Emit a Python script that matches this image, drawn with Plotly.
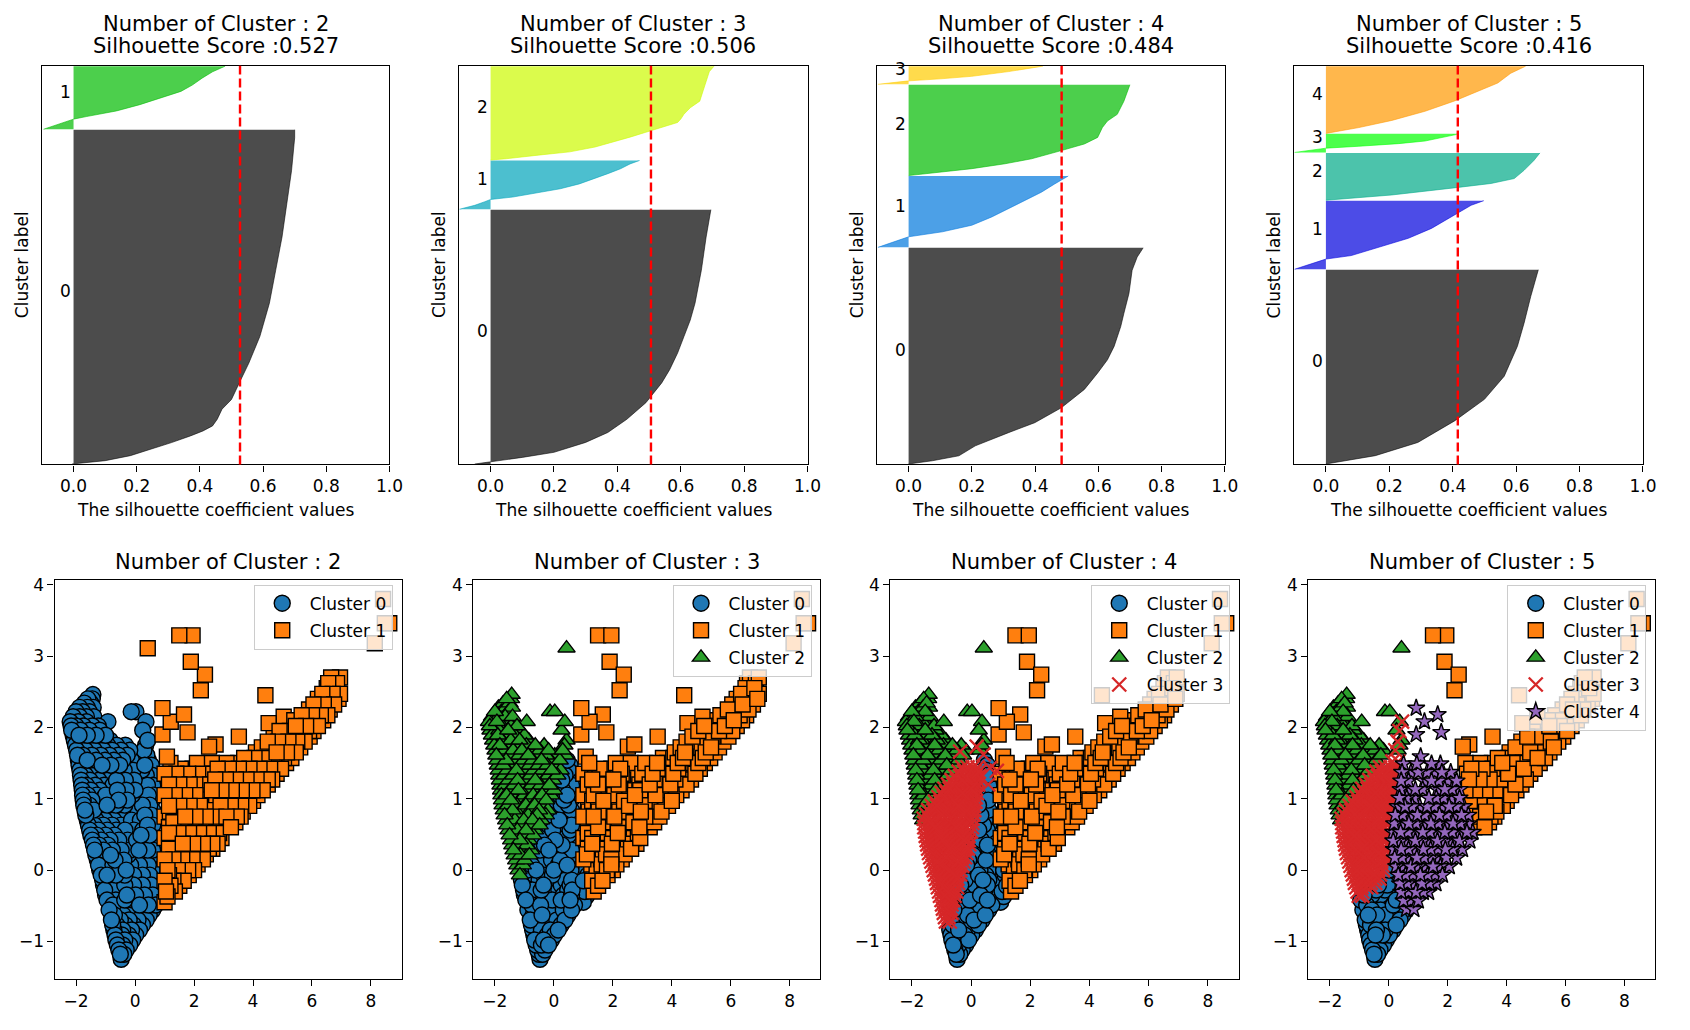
import math
import plotly.graph_objects as go

W, H = 1690, 1030

# ---------------- data: silhouette analysis ----------------
K_VALUES = [2, 3, 4, 5]
SCORES = [0.527, 0.506, 0.484, 0.416]

SIZES_K2 = [7529, 1421]
SIZES_K3 = [5734, 1099, 2117]
SIZES_K4 = [4880, 1610, 2050, 410]
SIZES_K5 = [4390, 1550, 1070, 420, 1520]

# sorted silhouette values sampled along each cluster (fraction of cluster -> value)
K2_C0_FRAC = [0, 0.005, 0.01, 0.025, 0.045, 0.064, 0.084, 0.099, 0.114, 0.134, 0.164, 0.193, 0.243, 0.302, 0.382, 0.481, 0.58, 0.679, 0.778, 0.877, 0.976, 1.0]
K2_C0_SIL = [-0.005, 0.05, 0.10, 0.18, 0.25, 0.31, 0.37, 0.41, 0.44, 0.455, 0.47, 0.50, 0.525, 0.555, 0.59, 0.62, 0.64, 0.66, 0.675, 0.69, 0.70, 0.70]
K2_C1_FRAC = [0, 0.05, 0.1, 0.16, 0.2, 0.29, 0.39, 0.5, 0.6, 0.7, 0.81, 0.91, 1.0]
K2_C1_SIL = [-0.095, -0.065, -0.035, 0.0, 0.04, 0.136, 0.21, 0.28, 0.34, 0.376, 0.407, 0.44, 0.48]

K3_C0_FRAC = [0, 0.0065, 0.013, 0.026, 0.046, 0.085, 0.124, 0.176, 0.241, 0.319, 0.371, 0.436, 0.501, 0.566, 0.632, 0.697, 0.762, 0.892, 1.0]
K3_C0_SIL = [-0.05, -0.01, 0.02, 0.10, 0.20, 0.30, 0.37, 0.43, 0.49, 0.54, 0.565, 0.59, 0.61, 0.63, 0.645, 0.655, 0.665, 0.68, 0.695]
K3_C1_FRAC = [0, 0.08, 0.15, 0.20, 0.25, 0.32, 0.42, 0.52, 0.63, 0.73, 0.83, 0.93, 1.0]
K3_C1_SIL = [-0.098, -0.05, -0.02, 0.0, 0.07, 0.13, 0.22, 0.28, 0.33, 0.37, 0.41, 0.44, 0.47]
K3_C2_FRAC = [0, 0.014, 0.052, 0.087, 0.139, 0.192, 0.244, 0.296, 0.348, 0.40, 0.436, 0.488, 0.557, 0.627, 0.732, 0.836, 0.941, 1.0]
K3_C2_SIL = [0.0, 0.05, 0.15, 0.25, 0.33, 0.39, 0.44, 0.49, 0.54, 0.59, 0.60, 0.61, 0.63, 0.66, 0.67, 0.68, 0.69, 0.705]

K4_C0_FRAC = [0, 0.015, 0.038, 0.084, 0.145, 0.191, 0.26, 0.345, 0.421, 0.482, 0.544, 0.636, 0.697, 0.789, 0.896, 0.957, 1.0]
K4_C0_SIL = [0.0, 0.075, 0.159, 0.211, 0.316, 0.399, 0.483, 0.556, 0.598, 0.629, 0.65, 0.671, 0.681, 0.697, 0.707, 0.723, 0.742]
K4_C1_FRAC = [0, 0.06, 0.1, 0.148, 0.218, 0.31, 0.426, 0.54, 0.657, 0.773, 0.889, 1.0]
K4_C1_SIL = [-0.097, -0.06, -0.035, 0.0, 0.107, 0.2, 0.263, 0.316, 0.368, 0.42, 0.462, 0.505]
K4_C2_FRAC = [0, 0.04, 0.076, 0.13, 0.185, 0.275, 0.348, 0.42, 0.529, 0.601, 0.674, 0.819, 0.928, 1.0]
K4_C2_SIL = [0.0, 0.107, 0.2, 0.305, 0.389, 0.483, 0.556, 0.598, 0.613, 0.629, 0.66, 0.681, 0.692, 0.70]
K4_C3_FRAC = [0, 0.07, 0.14, 0.19, 0.3, 0.44, 0.7, 0.96, 1.0]
K4_C3_SIL = [-0.097, -0.06, -0.02, 0.0, 0.1, 0.2, 0.316, 0.42, 0.425]

K5_C0_FRAC = [0, 0.015, 0.043, 0.111, 0.222, 0.333, 0.452, 0.606, 0.725, 0.862, 1.0]
K5_C0_SIL = [0.0, 0.05, 0.156, 0.29, 0.406, 0.5, 0.5625, 0.604, 0.625, 0.646, 0.67]
K5_C1_FRAC = [0, 0.07, 0.115, 0.149, 0.2, 0.308, 0.452, 0.596, 0.764, 0.933, 1.0]
K5_C1_SIL = [-0.099, -0.05, -0.02, 0.0, 0.08, 0.156, 0.26, 0.333, 0.396, 0.458, 0.498]
K5_C2_FRAC = [0, 0.04, 0.111, 0.271, 0.354, 0.458, 0.632, 0.84, 1.0]
K5_C2_SIL = [0.0, 0.08, 0.208, 0.417, 0.521, 0.594, 0.625, 0.656, 0.675]
K5_C3_FRAC = [0, 0.088, 0.175, 0.23, 0.333, 0.474, 0.614, 0.82, 0.96, 1.0]
K5_C3_SIL = [-0.099, -0.06, -0.02, 0.0, 0.104, 0.229, 0.3125, 0.375, 0.41, 0.415]
K5_C4_FRAC = [0, 0.087, 0.193, 0.329, 0.483, 0.628, 0.749, 0.894, 1.0]
K5_C4_SIL = [0.0, 0.104, 0.208, 0.3125, 0.406, 0.479, 0.542, 0.583, 0.63]

# ---------------- data: PCA scatter, point groups as (y, [x, ...]) rows ----------------
APEX = [(-1.25, [-0.47]), (-1.12, [-0.55, -0.3]), (-0.98, [-0.65, -0.35, -0.08]),
        (-0.84, [-0.72, -0.42, -0.12, 0.15]), (-0.70, [-0.5, -0.2, 0.1, 0.38]),
        (-0.56, [-0.58, -0.28, 0.02, 0.32, 0.6])]
APEX_B = [(-1.18, [-0.5, -0.38]), (-1.05, [-0.6, -0.42, -0.18]), (-0.91, [-0.68, -0.45, -0.22, 0.02]),
          (-0.77, [-0.62, -0.33, -0.05, 0.25]), (-0.63, [-0.4, -0.12, 0.18, 0.48]),
          (-0.49, [-0.45, -0.15, 0.15, 0.45, 0.7])]
APEX_L = [(-0.70, [-0.8]), (-0.56, [-0.88])]
APEX_L_B = [(-0.77, [-0.76]), (-0.63, [-0.7]), (-0.49, [-0.75])]
MID_L = [(-0.42, [-0.95, -0.65]), (-0.28, [-1.03, -0.73, -0.43]), (-0.14, [-1.1, -0.8, -0.5]),
         (0.00, [-0.9, -0.6, -0.3]), (0.14, [-0.68, -0.38]), (0.28, [-0.47, -0.17]),
         (0.42, [-0.55, -0.25]), (0.56, [-0.34, -0.04]), (0.70, [-0.12]), (0.84, [0.1]),
         (0.98, [0.04]), (1.12, [0.3]), (1.26, [0.27])]
MID_L_B = [(-0.35, [-1.0, -0.84, -0.57]), (-0.21, [-1.07, -0.65]), (-0.07, [-0.95, -0.65, -0.35]),
           (0.07, [-0.75, -0.45]), (0.21, [-0.53, -0.23]), (0.35, [-0.62, -0.32, -0.02]),
           (0.49, [-0.4, -0.1]), (0.63, [-0.18, 0.12]), (0.77, [0.03]), (0.91, [-0.05]),
           (1.05, [0.2]), (1.19, [0.15]), (1.47, [0.33])]
MID_R = [(-0.42, [-0.35, -0.05, 0.25, 0.55]), (-0.28, [-0.13, 0.17, 0.47, 0.62]),
         (-0.14, [-0.2, 0.1, 0.4, 0.6]), (0.00, [0.0, 0.3, 0.58]), (0.14, [-0.08, 0.22, 0.5]),
         (0.28, [0.13, 0.43, 0.6]), (0.42, [0.05, 0.35, 0.6]), (0.56, [0.26, 0.55]),
         (0.70, [0.18, 0.48]), (0.84, [0.4, 0.6]), (0.98, [0.34, 0.58]), (1.12, [0.55]),
         (1.26, [0.5]), (1.40, [0.5]), (1.54, [0.45])]
MID_R_B = [(-0.35, [-0.28, 0.02, 0.32, 0.6]), (-0.21, [-0.35, -0.05, 0.25, 0.55]),
           (-0.07, [-0.05, 0.25, 0.5]), (0.07, [-0.15, 0.15, 0.45]), (0.21, [0.07, 0.37, 0.6]),
           (0.35, [0.28, 0.55]), (0.49, [0.2, 0.5]), (0.63, [0.42, 0.6]), (0.77, [0.33, 0.55]),
           (0.91, [0.25, 0.5]), (1.05, [0.45, 0.62]), (1.19, [0.42, 0.6]), (1.33, [0.38, 0.58]),
           (1.47, [0.55])]
LEFT_BAND = [(0.00, [-1.2]), (0.14, [-1.28, -0.98]), (0.28, [-1.37, -1.07, -0.77]),
             (0.42, [-1.45, -1.15, -0.85]), (0.56, [-1.54, -1.24, -0.94, -0.64]),
             (0.70, [-1.32, -1.02, -0.72, -0.42]), (0.84, [-1.1, -0.8, -0.5, -0.2]),
             (0.98, [-0.86, -0.56, -0.26]), (1.12, [-0.6, -0.3, 0.0]),
             (1.26, [-0.63, -0.33, -0.03]), (1.40, [-0.37, -0.07, 0.23]), (1.54, [-0.12, 0.2])]
LEFT_BAND_B = [(-0.07, [-1.15]), (0.07, [-1.24, -1.05]), (0.21, [-1.33, -1.13, -0.83]),
               (0.35, [-1.41, -1.22, -0.92]), (0.49, [-1.5, -1.3, -1.0, -0.7]),
               (0.63, [-1.58, -1.38, -1.08, -0.78, -0.48]),
               (0.77, [-1.47, -1.17, -0.87, -0.57, -0.27]),
               (0.91, [-1.25, -0.95, -0.65, -0.35]), (1.05, [-1.0, -0.7, -0.4, -0.1]),
               (1.19, [-0.75, -0.45, -0.15]), (1.33, [-0.48, -0.18, 0.12]),
               (1.47, [-0.22, 0.08]), (1.61, [0.03, 0.4])]
TOP_LEFT = [(0.70, [-1.62]), (0.84, [-1.7, -1.4]), (0.98, [-1.76, -1.46, -1.16]),
            (1.12, [-1.79, -1.5, -1.2, -0.9]), (1.26, [-1.83, -1.53, -1.23, -0.93]),
            (1.40, [-1.87, -1.57, -1.27, -0.97, -0.67]),
            (1.54, [-1.92, -1.62, -1.32, -1.02, -0.72, -0.42]),
            (1.68, [-1.98, -1.68, -1.38, -1.08, -0.78, -0.48, -0.18, 0.3]),
            (1.82, [-2.06, -1.76, -1.46, -1.16, -0.85, 0.43]),
            (1.96, [-2.15, -1.85, -1.55, -1.2, 0.26]),
            (2.08, [-2.2, -1.93, -1.65, -0.92, 0.37]),
            (2.22, [-2.0, -1.78, -1.55, -0.13, 0.03]),
            (2.34, [-1.72, -1.5]), (2.46, [-1.43])]
TOP_LEFT_B = [(0.77, [-1.67]), (0.91, [-1.74, -1.55]), (1.05, [-1.78, -1.6, -1.3]),
              (1.19, [-1.81, -1.65, -1.35, -1.05]), (1.33, [-1.85, -1.68, -1.38, -1.08, -0.78]),
              (1.47, [-1.9, -1.72, -1.42, -1.12, -0.82, -0.52]),
              (1.61, [-1.95, -1.77, -1.47, -1.17, -0.87, -0.57, -0.27]),
              (1.75, [-2.02, -1.83, -1.53, -1.23, -0.93, -0.63, -0.33, 0.36]),
              (1.89, [-2.1, -1.9, -1.62, -1.32, -1.0]), (2.02, [-2.17, -2.0, -1.75, -1.45, -1.25]),
              (2.15, [-2.1, -1.88, -1.65, -1.4]), (2.28, [-1.88, -1.62, -1.42]),
              (2.40, [-1.6, -1.45])]
TRI_OUTLIER = [(3.11, [0.43])]
BLUE5_EXTRA = [(-0.42, [-0.95, -0.65, -0.35, -0.05, 0.25]), (-0.28, [-0.43, -0.13, 0.17]),
               (-0.14, [-0.2, 0.1]), (0.00, [0.0])]
BLUE5_EXTRA_B = [(-0.35, [-0.84, -0.57, -0.28, 0.02, 0.32]), (-0.21, [-0.35, -0.05, 0.25]),
                 (-0.07, [-0.05, 0.2]), (0.07, [0.05])]

ORANGE_LOWLEFT = [(-0.45, [1.0]), (-0.30, [1.05]), (-0.15, [1.0]), (0.00, [1.1])]
ORANGE_LOWLEFT_B = [(-0.37, [1.1]), (-0.22, [1.2]), (-0.07, [1.15])]
ORANGE_L = [(-0.30, [1.35]), (-0.15, [1.3, 1.65]), (0.00, [1.45, 1.8, 2.0]),
            (0.15, [1.0, 1.3, 1.6, 1.95, 2.3]), (0.30, [1.15, 1.45, 1.8, 2.15, 2.5, 2.62]),
            (0.45, [1.0, 1.3, 1.65, 2.0, 2.35, 2.7, 2.93]), (0.60, [1.15, 1.5, 1.85, 2.2, 2.55]),
            (0.75, [1.0, 1.35, 1.7, 2.05, 2.4, 2.75]), (0.90, [1.15, 1.5, 1.85, 2.2, 2.55]),
            (1.05, [1.0, 1.35, 1.7, 2.05, 2.4]), (1.20, [1.15, 1.5, 1.85, 2.2]),
            (1.35, [1.0, 1.4, 1.8, 2.3]), (1.50, [1.2, 2.1])]
ORANGE_L_B = [(-0.22, [1.5]), (-0.07, [1.47, 1.82]), (0.08, [1.27, 1.62, 1.95, 2.12]),
              (0.22, [1.12, 1.45, 1.77, 2.1, 2.4]), (0.37, [1.3, 1.62, 1.97, 2.3, 2.62, 2.8]),
              (0.52, [1.15, 1.47, 1.83, 2.17, 2.5, 2.85]), (0.67, [1.3, 1.66, 2.02, 2.37, 2.7]),
              (0.82, [1.18, 1.52, 1.88, 2.22, 2.58]), (0.97, [1.3, 1.68, 2.03, 2.38]),
              (1.12, [1.17, 1.52, 1.9, 2.25]), (1.27, [1.3, 1.67, 2.02, 2.35]),
              (1.42, [1.55, 1.95, 2.25])]
ORANGE_R = [(0.60, [2.9, 3.25]), (0.75, [3.1, 3.45, 3.58]), (0.90, [2.9, 3.25, 3.6, 3.87]),
            (1.05, [2.75, 3.1, 3.45, 3.8, 4.15]), (1.20, [2.55, 2.9, 3.25, 3.6, 3.95, 4.3, 4.5]),
            (1.35, [2.65, 3.0, 3.35, 3.7, 4.05, 4.4, 4.8]),
            (1.50, [2.6, 3.1, 3.5, 3.85, 4.2, 4.55, 4.9, 5.12]),
            (1.65, [4.1, 4.45, 4.8, 5.15, 5.45]), (1.80, [4.5, 4.85, 5.2, 5.5, 5.75]),
            (1.95, [4.9, 5.25, 5.6, 5.9, 6.05]), (2.10, [5.4, 5.75, 6.1, 6.38]),
            (2.25, [5.9, 6.25, 6.6]), (2.40, [6.2, 6.55, 6.9]), (2.55, [6.5, 6.8]),
            (2.70, [6.65, 6.95])]
ORANGE_R_B = [(0.67, [3.05, 3.4]), (0.82, [2.95, 3.3, 3.65]), (0.97, [2.75, 3.08, 3.43, 3.78, 4.0]),
              (1.12, [2.6, 2.93, 3.28, 3.62, 3.98, 4.33]),
              (1.27, [2.72, 3.08, 3.42, 3.78, 4.12, 4.5, 4.65]),
              (1.42, [2.8, 3.18, 3.52, 3.88, 4.22, 4.58, 4.95]),
              (1.57, [3.7, 4.05, 4.38, 4.72, 5.05, 5.3]), (1.72, [4.3, 4.65, 5.0, 5.33, 5.6]),
              (1.87, [4.7, 5.05, 5.38, 5.7, 5.92]), (2.02, [5.1, 5.45, 5.8, 6.2]),
              (2.17, [5.65, 6.0, 6.3, 6.52]), (2.32, [6.05, 6.4, 6.75]),
              (2.47, [6.35, 6.7, 6.95]), (2.62, [6.55, 6.85])]
ORANGE_SCATTER = [(2.27, [0.93]), (2.18, [1.66]), (2.08, [1.21]), (1.93, [1.78]),
                  (1.90, [0.93]), (1.59, [1.08])]
ORANGE_OUTLIERS = [(3.29, [1.50, 1.95]), (2.92, [1.89]), (2.74, [2.37]), (2.52, [2.23]),
                   (2.45, [4.42]), (1.73, [2.51]), (1.76, [2.73]), (1.87, [3.52]),
                   (2.06, [4.53]), (2.15, [5.04]), (3.80, [8.41]), (3.46, [8.47, 8.62]),
                   (3.18, [8.13])]

RED_LO_K4 = [(-0.72, [-0.85, -0.72]), (-0.60, [-0.92, -0.78, -0.66]), (-0.48, [-0.98, -0.82, -0.66]),
             (-0.36, [-1.05, -0.88, -0.72, -0.56]), (-0.24, [-1.12, -0.95, -0.78, -0.62, -0.47]),
             (-0.12, [-1.18, -1.0, -0.82, -0.64, -0.46]),
             (0.00, [-1.26, -1.08, -0.9, -0.72, -0.54, -0.36]),
             (0.12, [-1.34, -1.16, -0.98, -0.8, -0.62, -0.44, -0.26])]
RED_LO_K4_B = [(-0.66, [-0.88, -0.76]), (-0.54, [-0.95, -0.8, -0.68]), (-0.42, [-1.0, -0.85, -0.7, -0.6]),
               (-0.30, [-1.08, -0.92, -0.75, -0.58, -0.5]), (-0.18, [-1.15, -0.98, -0.8, -0.62, -0.44]),
               (-0.06, [-1.22, -1.04, -0.86, -0.68, -0.5, -0.37]),
               (0.06, [-1.3, -1.12, -0.94, -0.76, -0.58, -0.4, -0.3]),
               (0.18, [-1.38, -1.2, -1.02, -0.84, -0.66, -0.48, -0.3, -0.2])]
RED_LO_K5 = [(-0.36, [-1.02, -0.9]), (-0.24, [-1.1, -0.93, -0.76, -0.6]),
             (-0.12, [-1.18, -1.0, -0.82, -0.64, -0.46, -0.32]),
             (0.00, [-1.26, -1.08, -0.9, -0.72, -0.54, -0.36, -0.2]),
             (0.12, [-1.34, -1.16, -0.98, -0.8, -0.62, -0.44, -0.26, -0.08])]
RED_LO_K5_B = [(-0.30, [-1.06, -0.9]), (-0.18, [-1.15, -0.98, -0.8, -0.62, -0.46]),
               (-0.06, [-1.22, -1.04, -0.86, -0.68, -0.5, -0.3]),
               (0.06, [-1.3, -1.12, -0.94, -0.76, -0.58, -0.4, -0.2]),
               (0.18, [-1.38, -1.2, -1.02, -0.84, -0.66, -0.48, -0.3, -0.12, -0.02])]
RED_UP = [(0.24, [-1.42, -1.24, -1.06, -0.88, -0.7, -0.52, -0.34, -0.16]),
          (0.36, [-1.48, -1.3, -1.12, -0.94, -0.76, -0.58, -0.4, -0.22, -0.06]),
          (0.48, [-1.53, -1.35, -1.17, -0.99, -0.81, -0.63, -0.45, -0.27, -0.09]),
          (0.60, [-1.58, -1.4, -1.22, -1.04, -0.86, -0.68, -0.5, -0.32, -0.14, 0.03]),
          (0.72, [-1.6, -1.42, -1.24, -1.06, -0.88, -0.7, -0.52, -0.34, -0.16, 0.05]),
          (0.84, [-1.45, -1.27, -1.09, -0.91, -0.73, -0.55, -0.37, -0.19, -0.01, 0.11]),
          (0.96, [-1.22, -1.04, -0.86, -0.68, -0.5, -0.32, -0.14, 0.04, 0.15]),
          (1.08, [-1.0, -0.82, -0.64, -0.46, -0.28, -0.1, 0.08, 0.2]),
          (1.20, [-0.78, -0.6, -0.42, -0.24, -0.06, 0.12, 0.24]),
          (1.32, [-0.55, -0.37, -0.19, -0.01, 0.15, 0.28]),
          (1.44, [-0.3, -0.12, 0.06, 0.22])]
RED_UP_B = [(0.30, [-1.45, -1.27, -1.09, -0.91, -0.73, -0.55, -0.37, -0.19, -0.1]),
            (0.42, [-1.5, -1.32, -1.14, -0.96, -0.78, -0.6, -0.42, -0.24, -0.08]),
            (0.54, [-1.55, -1.37, -1.19, -1.01, -0.83, -0.65, -0.47, -0.29, -0.11, 0.0]),
            (0.66, [-1.58, -1.4, -1.22, -1.04, -0.86, -0.68, -0.5, -0.32, -0.14, 0.04]),
            (0.78, [-1.52, -1.34, -1.16, -0.98, -0.8, -0.62, -0.44, -0.26, -0.08, 0.08]),
            (0.90, [-1.33, -1.15, -0.97, -0.79, -0.61, -0.43, -0.25, -0.07, 0.1]),
            (1.02, [-1.1, -0.92, -0.74, -0.56, -0.38, -0.2, -0.02, 0.16]),
            (1.14, [-0.9, -0.72, -0.54, -0.36, -0.18, 0.0, 0.17]),
            (1.26, [-0.66, -0.48, -0.3, -0.12, 0.06, 0.22]),
            (1.38, [-0.42, -0.24, -0.06, 0.12, 0.26])]
RED_K5_RIGHT = [(0.24, [0.0]), (0.36, [0.08]), (0.48, [0.1]), (0.60, [0.18]), (0.72, [0.22]),
                (0.84, [0.26]), (0.96, [0.3]), (1.08, [0.34])]
RED_SPARSE_K4 = [(1.66, [-0.37]), (1.73, [0.19]), (1.62, [0.42]), (1.43, [0.64]), (1.39, [0.87]),
                 (1.29, [0.3]), (1.20, [0.58])]
RED_SPARSE_K5 = [(2.08, [0.45]), (1.95, [0.36]), (1.80, [0.3]), (1.68, [0.22]), (1.52, [0.12, 0.32]),
                 (1.30, [0.0, 0.42]), (1.18, [0.34]), (1.38, [0.2])]

PURPLE = [(-0.55, [0.6, 0.85]), (-0.43, [0.5, 0.75, 1.0]), (-0.31, [0.42, 0.67, 0.92, 1.17, 1.35]),
          (-0.19, [0.38, 0.63, 0.88, 1.13, 1.38, 1.6]),
          (-0.07, [0.32, 0.57, 0.82, 1.07, 1.32, 1.57, 1.82]),
          (0.05, [0.25, 0.5, 0.75, 1.0, 1.25, 1.5, 1.75, 2.05]),
          (0.17, [0.2, 0.45, 0.7, 0.95, 1.2, 1.45, 1.7, 1.95, 2.3]),
          (0.29, [0.17, 0.42, 0.67, 0.92, 1.17, 1.42, 1.67, 1.92, 2.17, 2.5]),
          (0.41, [0.15, 0.4, 0.65, 0.9, 1.15, 1.4, 1.65, 1.9, 2.15, 2.4, 2.75]),
          (0.53, [0.15, 0.4, 0.65, 0.9, 1.15, 1.4, 1.65, 1.9, 2.15, 2.4, 2.65, 2.85]),
          (0.65, [0.18, 0.43, 0.68, 0.93, 1.18, 1.43, 1.68, 1.93, 2.18, 2.43, 2.7]),
          (0.77, [0.22, 0.47, 0.72, 0.97, 1.22, 1.47, 1.72, 1.97, 2.22, 2.47, 2.7]),
          (0.89, [0.3, 0.55, 0.8, 1.05, 1.3, 1.55, 1.8, 2.05, 2.3, 2.55]),
          (1.01, [0.36, 0.61, 0.86, 1.36, 1.61, 1.86, 2.11, 2.4]),
          (1.13, [0.4, 0.65, 0.9, 1.15, 1.65, 1.9, 2.15, 2.4]),
          (1.25, [0.42, 0.67, 1.2, 1.45, 1.7, 2.0, 2.3]),
          (1.37, [0.45, 0.75, 1.0, 1.3, 1.55, 1.8, 2.1]),
          (1.49, [0.5, 0.95, 1.45, 1.75])]

# cluster composition per k (lists of point groups)
CLUSTERS_K2 = [[APEX, APEX_B, APEX_L, APEX_L_B, MID_L, MID_L_B, MID_R, MID_R_B,
                LEFT_BAND, LEFT_BAND_B, TOP_LEFT, TOP_LEFT_B],
               [ORANGE_LOWLEFT, ORANGE_LOWLEFT_B, ORANGE_L, ORANGE_L_B, ORANGE_R, ORANGE_R_B,
                ORANGE_SCATTER, ORANGE_OUTLIERS, TRI_OUTLIER]]
CLUSTERS_K3 = [[APEX, APEX_B, APEX_L, APEX_L_B, MID_L, MID_L_B, MID_R, MID_R_B,
                ORANGE_LOWLEFT, ORANGE_LOWLEFT_B],
               [ORANGE_L, ORANGE_L_B, ORANGE_R, ORANGE_R_B, ORANGE_SCATTER, ORANGE_OUTLIERS],
               [TOP_LEFT, TOP_LEFT_B, LEFT_BAND, LEFT_BAND_B, TRI_OUTLIER]]
CLUSTERS_K4 = [[APEX, APEX_B, MID_R, MID_R_B, ORANGE_LOWLEFT, ORANGE_LOWLEFT_B],
               [ORANGE_L, ORANGE_L_B, ORANGE_R, ORANGE_R_B, ORANGE_SCATTER, ORANGE_OUTLIERS],
               [TOP_LEFT, TOP_LEFT_B, TRI_OUTLIER],
               [RED_LO_K4, RED_LO_K4_B, RED_UP, RED_UP_B, RED_SPARSE_K4]]
CLUSTERS_K5 = [[APEX, APEX_B, APEX_L, APEX_L_B, BLUE5_EXTRA, BLUE5_EXTRA_B],
               [ORANGE_R, ORANGE_R_B, ORANGE_OUTLIERS],
               [TOP_LEFT, TOP_LEFT_B, TRI_OUTLIER],
               [RED_LO_K5, RED_LO_K5_B, RED_UP, RED_UP_B, RED_K5_RIGHT, RED_SPARSE_K5],
               [PURPLE, ORANGE_SCATTER]]

# ---------------- styles ----------------
FONT = "DejaVu Sans"
SIL_COLORS = {
    2: [(0, 0, 0), (0, 187, 0)],
    3: [(0, 0, 0), (0, 164, 187), (204, 249, 0)],
    4: [(0, 0, 0), (0, 119, 221), (0, 187, 0), (255, 204, 0)],
    5: [(0, 0, 0), (0, 0, 221), (0, 170, 136), (0, 255, 0), (255, 153, 0)],
}
MARKERS = [
    dict(symbol="circle", color="#1f77b4", size=16, line=dict(color="black", width=1.4)),
    dict(symbol="square", color="#ff7f0e", size=15, line=dict(color="black", width=1.4)),
    dict(symbol="triangle-up", color="#2ca02c", size=15, line=dict(color="black", width=1.4)),
    dict(symbol="x-thin", color="#d62728", size=14, line=dict(color="#d62728", width=2.3)),
    dict(symbol="star", color="#9467bd", size=13, line=dict(color="black", width=1.4)),
]
TOP_X = [(42.3, 392.7), (462.7, 814.3), (884.3, 1235.0), (1305.0, 1656.7)]
TOP_Y = (61.0, 461.7)
BOT_X = [(55.0, 405.0), (477.3, 827.3), (897.7, 1249.0), (1319.3, 1669.0)]
BOT_Y = (577.5, 979.0)

SIZES = [SIZES_K2, SIZES_K3, SIZES_K4, SIZES_K5]
PROFILES = [
    [(K2_C0_FRAC, K2_C0_SIL), (K2_C1_FRAC, K2_C1_SIL)],
    [(K3_C0_FRAC, K3_C0_SIL), (K3_C1_FRAC, K3_C1_SIL), (K3_C2_FRAC, K3_C2_SIL)],
    [(K4_C0_FRAC, K4_C0_SIL), (K4_C1_FRAC, K4_C1_SIL), (K4_C2_FRAC, K4_C2_SIL), (K4_C3_FRAC, K4_C3_SIL)],
    [(K5_C0_FRAC, K5_C0_SIL), (K5_C1_FRAC, K5_C1_SIL), (K5_C2_FRAC, K5_C2_SIL),
     (K5_C3_FRAC, K5_C3_SIL), (K5_C4_FRAC, K5_C4_SIL)],
]
CLUSTERS = [CLUSTERS_K2, CLUSTERS_K3, CLUSTERS_K4, CLUSTERS_K5]


def px_x(v):
    return v / W


def px_y(v):
    return 1 - v / H


def expand(groups):
    xs, ys = [], []
    for g in groups:
        for yv, row in g:
            for xv in row:
                xs.append(xv)
                ys.append(yv)
    # interleave the drawing order (deterministic stride) so overlaps look unordered
    n = len(xs)
    stride = next(s for s in (37, 41, 43, 47, 53, 59, 61) if math.gcd(s, n) == 1)
    order = [(j * stride) % n for j in range(n)]
    return [xs[o] for o in order], [ys[o] for o in order]


fig = go.Figure()
layout = dict(
    width=W, height=H, margin=dict(l=0, r=0, t=0, b=0),
    paper_bgcolor="white", plot_bgcolor="white",
    font=dict(family=FONT, size=17, color="black"),
    showlegend=True,
)
annotations = []
shapes = []

axis_common = dict(showline=True, mirror=True, linecolor="black", linewidth=1.3,
                   showgrid=False, zeroline=False, ticks="outside", ticklen=6,
                   tickwidth=1.3, tickcolor="black", tickfont=dict(family=FONT, size=17, color="black"))

for i, k in enumerate(K_VALUES):
    # ---------- top: silhouette plot ----------
    ax = i + 1
    xa = "x" if ax == 1 else f"x{ax}"
    ya = "y" if ax == 1 else f"y{ax}"
    sizes = SIZES[i]
    total = sum(sizes) + (k + 1) * 10
    y_lower = 10
    for c in range(k):
        frac, sil = PROFILES[i][c]
        n = sizes[c]
        ys = [y_lower + f * n for f in frac]
        r, g, b = SIL_COLORS[k][c]
        col = f"rgba({r},{g},{b},0.7)"
        fig.add_trace(go.Scatter(x=sil, y=ys, mode="lines", fill="tozerox", fillcolor=col,
                                 line=dict(color=col, width=0.8), showlegend=False,
                                 xaxis=xa, yaxis=ya, hoverinfo="skip"))
        annotations.append(dict(x=-0.05, y=y_lower + 0.5 * n, xref=xa, yref=ya, text=str(c),
                                showarrow=False, xanchor="left", yanchor="middle", yshift=6,
                                font=dict(family=FONT, size=17, color="black")))
        y_lower += n + 10
    shapes.append(dict(type="line", xref=xa, yref=f"{ya} domain", x0=SCORES[i], x1=SCORES[i],
                       y0=0, y1=1, line=dict(color="red", width=2.4, dash="9px,4px")))
    layout["xaxis" if ax == 1 else f"xaxis{ax}"] = dict(
        axis_common, domain=[px_x(TOP_X[i][0]), px_x(TOP_X[i][1])], anchor=ya,
        range=[-0.1, 1.0], tickvals=[0, 0.2, 0.4, 0.6, 0.8, 1.0],
        ticktext=["0.0", "0.2", "0.4", "0.6", "0.8", "1.0"])
    layout["yaxis" if ax == 1 else f"yaxis{ax}"] = dict(
        axis_common, domain=[px_y(TOP_Y[1]), px_y(TOP_Y[0])], anchor=xa,
        range=[0, total], showticklabels=False, ticks="")
    cx = (TOP_X[i][0] + TOP_X[i][1]) / 2
    annotations.append(dict(x=px_x(cx), y=px_y(19), xref="paper", yref="paper",
                            text=f"Number of Cluster : {k}", showarrow=False,
                            xanchor="center", yanchor="middle", font=dict(family=FONT, size=21)))
    annotations.append(dict(x=px_x(cx), y=px_y(41), xref="paper", yref="paper",
                            text=f"Silhouette Score :{SCORES[i]:.3f}", showarrow=False,
                            xanchor="center", yanchor="middle", font=dict(family=FONT, size=21)))
    annotations.append(dict(x=px_x(cx), y=px_y(507), xref="paper", yref="paper",
                            text="The silhouette coefficient values", showarrow=False,
                            xanchor="center", yanchor="middle", font=dict(family=FONT, size=17)))
    annotations.append(dict(x=px_x(TOP_X[i][0] - 20), y=px_y((TOP_Y[0] + TOP_Y[1]) / 2),
                            xref="paper", yref="paper", text="Cluster label", textangle=-90,
                            showarrow=False, xanchor="center", yanchor="middle",
                            font=dict(family=FONT, size=17)))

    # ---------- bottom: scatter ----------
    bx = i + 5
    xb, yb = f"x{bx}", f"y{bx}"
    leg = "legend" if i == 0 else f"legend{i + 1}"
    for c in range(k):
        xs, ys = expand(CLUSTERS[i][c])
        fig.add_trace(go.Scatter(x=xs, y=ys, mode="markers", name=f"Cluster {c}",
                                 marker=MARKERS[c], xaxis=xb, yaxis=yb, legend=leg,
                                 legendgroup=f"p{i}c{c}", showlegend=True, hoverinfo="skip"))
    layout[f"xaxis{bx}"] = dict(axis_common, domain=[px_x(BOT_X[i][0]), px_x(BOT_X[i][1])],
                                anchor=yb, range=[-2.73, 9.04], tickvals=[-2, 0, 2, 4, 6, 8],
                                ticktext=["\u22122", "0", "2", "4", "6", "8"])
    layout[f"yaxis{bx}"] = dict(axis_common, domain=[px_y(BOT_Y[1]), px_y(BOT_Y[0])],
                                anchor=xb, range=[-1.53, 4.07], tickvals=[-1, 0, 1, 2, 3, 4],
                                ticktext=["\u22121", "0", "1", "2", "3", "4"])
    cxb = (BOT_X[i][0] + BOT_X[i][1]) / 2
    annotations.append(dict(x=px_x(cxb), y=px_y(560), xref="paper", yref="paper",
                            text=f"Number of Cluster : {k}", showarrow=False,
                            xanchor="center", yanchor="middle", font=dict(family=FONT, size=21)))
    layout[leg] = dict(x=px_x(BOT_X[i][1] - 9), y=px_y(BOT_Y[0] + 5), xanchor="right",
                       yanchor="top", bgcolor="rgba(255,255,255,0.8)", bordercolor="#cccccc",
                       borderwidth=1, font=dict(family=FONT, size=17, color="black"),
                       itemwidth=45, traceorder="grouped", tracegroupgap=2)

layout["annotations"] = annotations
layout["shapes"] = shapes
fig.update_layout(**layout)

fig.write_html("out.html", config={"displayModeBar": False},
               post_script="document.body.style.margin='0px';document.body.style.overflow='hidden';")
